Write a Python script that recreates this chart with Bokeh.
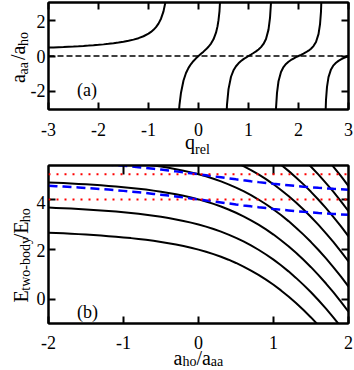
import math
from bokeh.plotting import figure
from bokeh.layouts import column, row
from bokeh.models import Range1d, FixedTicker, LinearAxis, Label, Span
from bokeh.core.properties import value
from bokeh.embed import file_html
from bokeh.resources import INLINE

FONT = "Liberation Serif"

# ---------------- panel (a): a_aa/a_ho versus q_rel ----------------
qa_ticks = [-3, -2, -1, 0, 1, 2, 3]
qa_labels = ["-3", "-2", "-1", "0", "1", "2", "3"]
ya_ticks = [-2, 0, 2]
ya_labels = ["-2", "0", "2"]

q_left = [-3.0, -2.9, -2.8, -2.7, -2.6, -2.5, -2.4, -2.3, -2.2, -2.1, -2.0, -1.9, -1.8, -1.7,
          -1.6, -1.5, -1.4, -1.3, -1.2, -1.1, -1.0, -0.95, -0.9, -0.85, -0.8, -0.75, -0.7, -0.65, -0.6]
a_left = [0.470, 0.481, 0.492, 0.504, 0.518, 0.532, 0.548, 0.565, 0.583, 0.604, 0.627, 0.652, 0.681,
          0.715, 0.753, 0.798, 0.852, 0.917, 1.000, 1.107, 1.253, 1.349, 1.468, 1.619, 1.817, 2.092,
          2.501, 3.176, 4.517]

q_br0 = [-0.45, -0.42, -0.40, -0.38, -0.35, -0.30, -0.25, -0.20, -0.15, -0.10, -0.05, 0.0, 0.05,
         0.10, 0.15, 0.20, 0.25, 0.30, 0.35, 0.38, 0.40, 0.42, 0.45]
a_br0 = [-7.413, -4.40, -3.406, -2.729, -2.060, -1.376, -0.956, -0.666, -0.450, -0.277, -0.130, 0.0,
         0.123, 0.245, 0.374, 0.519, 0.697, 0.938, 1.308, 1.661, 2.008, 2.522, 4.035]

q_br1 = [0.53, 0.55, 0.57, 0.60, 0.65, 0.70, 0.75, 0.80, 0.85, 0.90, 0.95, 1.0, 1.05, 1.10, 1.15,
         1.20, 1.25, 1.30, 1.35, 1.40, 1.43, 1.45, 1.47]
a_br1 = [-6.589, -3.883, -2.725, -1.858, -1.164, -0.803, -0.574, -0.410, -0.283, -0.178, -0.086, 0.0,
         0.083, 0.168, 0.260, 0.367, 0.498, 0.677, 0.954, 1.479, 2.133, 3.000, 5.018]

q_br2 = [1.53, 1.55, 1.57, 1.60, 1.65, 1.70, 1.75, 1.80, 1.85, 1.90, 1.95, 2.0, 2.05, 2.10, 2.15,
         2.20, 2.25, 2.30, 2.35, 2.40, 2.43, 2.45, 2.47]
a_br2 = [-4.966, -2.936, -2.067, -1.416, -0.893, -0.620, -0.446, -0.321, -0.223, -0.141, -0.068, 0.0,
         0.067, 0.136, 0.211, 0.299, 0.408, 0.556, 0.787, 1.224, 1.769, 2.492, 4.173]

q_br3 = [2.53, 2.55, 2.57, 2.60, 2.65, 2.70, 2.75, 2.80, 2.85, 2.90, 2.95, 3.0]
a_br3 = [-4.146, -2.455, -1.730, -1.187, -0.752, -0.523, -0.378, -0.272, -0.190, -0.120, -0.058, 0.0]

# ---------------- panel (b): E_two-body/E_ho versus a_ho/a_aa ----------------
xb_ticks = [-2, -1, 0, 1, 2]
xb_labels = ["-2", "-1", "0", "1", "2"]
yb_ticks = [0, 2, 4]
yb_labels = ["0", "2", "4"]

inv_a = [-2.0, -1.9, -1.8, -1.7, -1.6, -1.5, -1.4, -1.3, -1.2, -1.1, -1.0, -0.9, -0.8, -0.7, -0.6,
         -0.5, -0.4, -0.3, -0.2, -0.1, 0.0, 0.1, 0.2, 0.3, 0.4, 0.5, 0.6, 0.7, 0.8, 0.9, 1.0, 1.1,
         1.2, 1.3, 1.4, 1.5, 1.6, 1.7, 1.8, 1.9, 2.0]

E_black0 = [2.675, 2.662, 2.649, 2.634, 2.618, 2.600, 2.580, 2.559, 2.537, 2.514, 2.488, 2.459, 2.427,
            2.390, 2.350, 2.307, 2.259, 2.204, 2.143, 2.076, 2.000, 1.916, 1.822, 1.717, 1.600, 1.470,
            1.327, 1.169, 0.996, 0.807, 0.601, 0.377, 0.136, -0.124, -0.402, -0.698, -1.014, -1.349,
            -1.702, -2.076, -2.470]
E_black1 = [3.675, 3.662, 3.649, 3.634, 3.618, 3.600, 3.580, 3.559, 3.537, 3.514, 3.488, 3.459, 3.427,
            3.390, 3.350, 3.307, 3.259, 3.204, 3.143, 3.076, 3.000, 2.916, 2.822, 2.717, 2.600, 2.470,
            2.327, 2.169, 1.996, 1.807, 1.601, 1.377, 1.136, 0.876, 0.598, 0.302, -0.014, -0.349,
            -0.702, -1.076, -1.470]
E_black2 = [4.675, 4.662, 4.649, 4.634, 4.618, 4.600, 4.580, 4.559, 4.537, 4.514, 4.488, 4.459, 4.427,
            4.390, 4.350, 4.307, 4.259, 4.204, 4.143, 4.076, 4.000, 3.916, 3.822, 3.717, 3.600, 3.470,
            3.327, 3.169, 2.996, 2.807, 2.601, 2.377, 2.136, 1.876, 1.598, 1.302, 0.986, 0.651,
            0.298, -0.076, -0.470]
E_black3 = [5.675, 5.662, 5.649, 5.634, 5.618, 5.600, 5.580, 5.559, 5.537, 5.514, 5.488, 5.459, 5.427,
            5.390, 5.350, 5.307, 5.259, 5.204, 5.143, 5.076, 5.000, 4.916, 4.822, 4.717, 4.600, 4.470,
            4.327, 4.169, 3.996, 3.807, 3.601, 3.377, 3.136, 2.876, 2.598, 2.302, 1.986, 1.651,
            1.298, 0.924, 0.530]
E_black4 = [6.675, 6.662, 6.649, 6.634, 6.618, 6.600, 6.580, 6.559, 6.537, 6.514, 6.488, 6.459, 6.427,
            6.390, 6.350, 6.307, 6.259, 6.204, 6.143, 6.076, 6.000, 5.916, 5.822, 5.717, 5.600, 5.470,
            5.327, 5.169, 4.996, 4.807, 4.601, 4.377, 4.136, 3.876, 3.598, 3.302, 2.986, 2.651,
            2.298, 1.924, 1.530]
E_black5 = [7.675, 7.662, 7.649, 7.634, 7.618, 7.600, 7.580, 7.559, 7.537, 7.514, 7.488, 7.459, 7.427,
            7.390, 7.350, 7.307, 7.259, 7.204, 7.143, 7.076, 7.000, 6.916, 6.822, 6.717, 6.600, 6.470,
            6.327, 6.169, 5.996, 5.807, 5.601, 5.377, 5.136, 4.876, 4.598, 4.302, 3.986, 3.651,
            3.298, 2.924, 2.530]
E_black6 = [8.675, 8.662, 8.649, 8.634, 8.618, 8.600, 8.580, 8.559, 8.537, 8.514, 8.488, 8.459, 8.427,
            8.390, 8.350, 8.307, 8.259, 8.204, 8.143, 8.076, 8.000, 7.916, 7.822, 7.717, 7.600, 7.470,
            7.327, 7.169, 6.996, 6.807, 6.601, 6.377, 6.136, 5.876, 5.598, 5.302, 4.986, 4.651,
            4.298, 3.924, 3.530]
E_black7 = [9.675, 9.662, 9.649, 9.634, 9.618, 9.600, 9.580, 9.559, 9.537, 9.514, 9.488, 9.459, 9.427,
            9.390, 9.350, 9.307, 9.259, 9.204, 9.143, 9.076, 9.000, 8.916, 8.822, 8.717, 8.600, 8.470,
            8.327, 8.169, 7.996, 7.807, 7.601, 7.377, 7.136, 6.876, 6.598, 6.302, 5.986, 5.651,
            5.298, 4.924, 4.530]

E_blue0 = [4.542, 4.526, 4.510, 4.493, 4.475, 4.456, 4.435, 4.413, 4.390, 4.366, 4.340, 4.312, 4.283,
           4.253, 4.220, 4.187, 4.152, 4.116, 4.078, 4.040, 4.000, 3.960, 3.919, 3.879, 3.839, 3.799,
           3.761, 3.724, 3.688, 3.654, 3.621, 3.590, 3.562, 3.534, 3.508, 3.485, 3.463, 3.442, 3.421,
           3.404, 3.388]
E_blue1 = [5.542, 5.526, 5.510, 5.493, 5.475, 5.456, 5.435, 5.413, 5.390, 5.366, 5.340, 5.312, 5.283,
           5.253, 5.220, 5.187, 5.152, 5.116, 5.078, 5.040, 5.000, 4.960, 4.919, 4.879, 4.839, 4.799,
           4.761, 4.724, 4.688, 4.654, 4.621, 4.590, 4.562, 4.534, 4.508, 4.485, 4.463, 4.442, 4.421,
           4.404, 4.388]

E_red_levels = [4.0, 5.0]

# ---------------- helpers ----------------
WIDTH_EM = {'a': .444, '/': .278, 'h': .5, 'o': .5, 'E': .611, 't': .278, 'w': .722, '-': .333,
            'b': .5, 'd': .5, 'y': .5, 'q': .5, 'r': .333, 'e': .444, 'l': .278, ' ': .25,
            '(': .333, ')': .333}


def text_width(s, size):
    return sum(WIDTH_EM[c] for c in s) * size


def style_axes(p, xt, yt, top_ticks, right_ticks, top_tick_len=7):
    p.xgrid.visible = False
    p.ygrid.visible = False
    p.outline_line_color = "black"
    p.outline_line_width = 2
    p.outline_line_alpha = 1
    p.background_fill_color = "white"
    p.border_fill_color = "white"
    for ax, ticks in ((p.xaxis[0], xt), (p.yaxis[0], yt)):
        ax.ticker = FixedTicker(ticks=ticks)
        ax.major_label_overrides = {t: "" for t in ticks}
        ax.major_label_text_font_size = "0px"
        ax.major_label_standoff = 0
        ax.major_tick_in = 7
        ax.major_tick_out = 0
        ax.minor_tick_in = 0
        ax.minor_tick_out = 0
        ax.major_tick_line_width = 2
        ax.major_tick_line_color = "black"
        ax.axis_line_width = 2
        ax.axis_line_color = "black"
    for loc, ticks, tl in (("above", top_ticks, top_tick_len), ("right", right_ticks, 7)):
        ax = LinearAxis(ticker=FixedTicker(ticks=ticks),
                        major_label_overrides={t: "" for t in ticks},
                        major_label_text_font_size="0px", major_label_standoff=0,
                        major_tick_in=tl, major_tick_out=0, minor_tick_in=0, minor_tick_out=0,
                        major_tick_line_width=2, axis_line_width=2, axis_line_color="black")
        p.add_layout(ax, loc)


def text_strip(width, height, x_range, y_range):
    f = figure(width=width, height=height, x_range=x_range, y_range=y_range,
               output_backend="svg", toolbar_location=None, x_axis_location=None,
               y_axis_location=None, min_border=0, min_border_left=0, min_border_right=0,
               min_border_top=0, min_border_bottom=0)
    f.xgrid.visible = False
    f.ygrid.visible = False
    f.outline_line_color = None
    f.background_fill_color = "white"
    f.border_fill_color = "white"
    return f


def put_pieces(p, mapper, pieces, px, py, vertical, units="data"):
    # px, py: page position (top-left origin) of the start of the text on its baseline
    pos = 0.0
    for txt, size, off in pieces:
        if txt.strip():
            if vertical:
                gx, gy = px + off, py - pos
                ang = math.pi / 2
            else:
                gx, gy = px + pos, py + off
                ang = 0
            x, y = mapper(gx, gy)
            p.add_layout(Label(x=x, y=y, x_units=units, y_units=units,
                               text=txt, angle=ang, text_font=FONT,
                               text_font_size=f"{size}px", text_color="black",
                               text_align="left", text_baseline="alphabetic"))
        pos += text_width(txt, size)


# ---------------- figure (a) ----------------
# frame: page x 48..348, page y 2..109
pa = figure(width=308, height=111, x_range=Range1d(-3, 3), y_range=Range1d(-3, 3),
            output_backend="svg", toolbar_location=None,
            min_border_left=2, min_border_right=6, min_border_top=2, min_border_bottom=2)
style_axes(pa, qa_ticks, ya_ticks, qa_ticks, ya_ticks)
pa.add_layout(Span(location=0, dimension="width", line_color="black", line_width=1.5, line_dash="6 3"))
for qq, aa in ((q_left, a_left), (q_br0, a_br0), (q_br1, a_br1), (q_br2, a_br2), (q_br3, a_br3)):
    pa.line(qq, aa, line_color="black", line_width=2)
put_pieces(pa, lambda px, py: (px - 48, 109 - py), [("(a)", 18, 0)], 76.5, 89, False, "screen")

ka = 6.0 / 107.0
ylab_a = text_strip(46, 111, Range1d(0, 46), Range1d(-3 - 2 * ka, 3 + 2 * ka))
ylab_a.text(x=[45] * len(ya_ticks), y=ya_ticks, text=ya_labels, text_align="right",
            text_baseline="middle", text_font=value(FONT), text_font_size=value("18px"),
            text_color="black")
put_pieces(ylab_a, lambda px, py: (px, 3 - (py - 2) * ka),
           [("a", 20, 0), ("aa", 14, 5), (" ", 10, 0), ("/a", 20, 0), ("ho", 14, 5)], 17.5, 83.5, True)

xlab_a = text_strip(354, 49, Range1d(-3 - 48 / 50.0, 3 + 6 / 50.0), Range1d(0, 49))
xlab_a.text(x=qa_ticks, y=[160 - 128.7] * len(qa_ticks), text=qa_labels, text_align="center",
            text_baseline="alphabetic", text_font=value(FONT), text_font_size=value("18px"),
            text_color="black")
put_pieces(xlab_a, lambda px, py: (-3 + (px - 48) / 50.0, 160 - py),
           [("q", 20, 0), ("rel", 14, 7.5)], 184.5, 141, False)

# ---------------- figure (b) ----------------
# frame: page x 48..348, page y 165..323
pb = figure(width=308, height=165, x_range=Range1d(-2, 2), y_range=Range1d(-0.94, 5.35),
            output_backend="svg", toolbar_location=None,
            min_border_left=2, min_border_right=6, min_border_top=5, min_border_bottom=2)
style_axes(pb, xb_ticks, yb_ticks, [-1, 0, 1], yb_ticks, top_tick_len=9)

for lev in E_red_levels:
    pb.add_layout(Span(location=lev, dimension="width", line_color="#ff0000", line_width=2,
                       line_dash="2 6"))
for ee in (E_black0, E_black1, E_black2, E_black3, E_black4, E_black5, E_black6, E_black7):
    pb.line(inv_a, ee, line_color="black", line_width=2)
for ee in (E_blue0, E_blue1):
    pb.line(inv_a, ee, line_color="#0000ff", line_width=2.5, line_dash="9 5")
put_pieces(pb, lambda px, py: (px - 48, 323 - py), [("(b)", 18, 0)], 76.5, 311.5, False, "screen")

kb = 6.29 / 158.0
ylab_b = text_strip(46, 165, Range1d(0, 46), Range1d(-0.94 - 2 * kb, 5.35 + 5 * kb))
ylab_b.text(x=[45] * len(yb_ticks), y=yb_ticks, text=yb_labels, text_align="right",
            text_baseline="middle", text_font=value(FONT), text_font_size=value("18px"),
            text_color="black")
put_pieces(ylab_b, lambda px, py: (px, 5.35 - (py - 165) * kb),
           [("E", 20, 0), ("two-body", 14, 4.5), ("/E", 20, 0), ("ho", 14, 4.5)], 20, 303, True)

xlab_b = text_strip(354, 45, Range1d(-2 - 48 / 75.0, 2 + 6 / 75.0), Range1d(0, 45))
xlab_b.text(x=xb_ticks, y=[370 - 341.5] * len(xb_ticks), text=xb_labels, text_align="center",
            text_baseline="alphabetic", text_font=value(FONT), text_font_size=value("18px"),
            text_color="black")
put_pieces(xlab_b, lambda px, py: (-2 + (px - 48) / 75.0, 370 - py),
           [("a", 20, 0), ("ho", 14, 4), ("/a", 20, 0), ("aa", 14, 4)], 173, 357, False)

layout = column(row(ylab_a, pa), xlab_a, row(ylab_b, pb), xlab_b)
open("out.html", "w").write(file_html(layout, INLINE))
